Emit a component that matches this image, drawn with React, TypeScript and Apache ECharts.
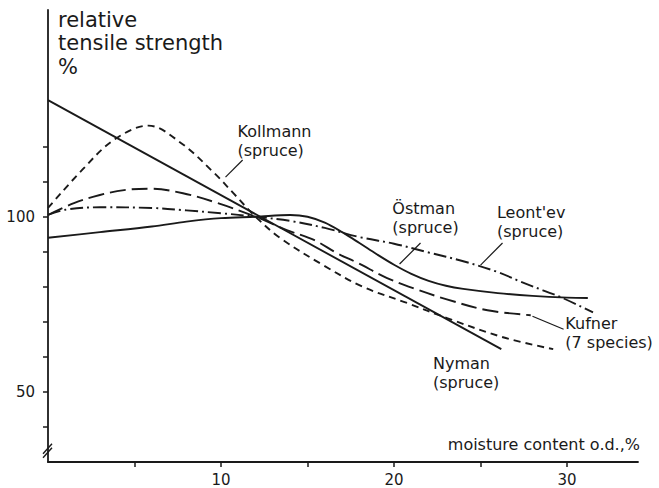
import React, { useEffect, useRef } from 'react';
import * as echarts from 'echarts';

// ---- data ----
const moistureTicks = [5, 10, 15, 20, 25, 30];
const moistureLabels = [10, 20, 30];
const strengthTicks = [40, 50, 60, 70, 80, 90, 100, 110, 120];
const strengthLabels = [50, 100];

const nyman = [[0, 133.3], [26.2, 62.2]];
const kollmann = [
  [0, 102.5], [2, 113.5], [3.8, 121.9], [5.8, 126], [7.7, 121], [9.6, 112.5],
  [10.7, 106.8], [12, 100], [13.4, 94], [15.9, 86.2], [18.2, 80], [20.8, 75.3],
  [23.1, 71], [26.3, 65.6], [29.2, 62.2],
];
const kufner = [
  [0, 100.5], [1.5, 103.9], [3, 106.2], [4.4, 107.6], [5.9, 108], [7.8, 106.7],
  [9.8, 103.9], [12, 100], [13.8, 96.2], [15.4, 93.3], [16.7, 89.6], [17.9, 86.8],
  [19.6, 82.5], [21.1, 79.6], [23, 76.5], [25.4, 73.3], [27.9, 71.9],
];
const ostman = [
  [0, 94], [3, 95.6], [6, 97.2], [8, 98.6], [10, 99.6], [12, 100], [14, 100.5],
  [15, 100], [16, 98.3], [17, 95.6], [18, 92.5], [19, 89.3], [20, 86.3], [21, 83.7],
  [22, 81.7], [23, 80.3], [24, 79.4], [26, 78.2], [28, 77.4], [30, 76.9], [31.2, 76.8],
];
const leontev = [
  [0, 100.5], [1, 102], [3, 102.7], [6, 102.5], [8, 101.8], [10, 101], [12, 100],
  [14, 98.8], [16, 96.8], [18, 94.2], [20, 92.3], [22, 89.8], [24, 87.3], [26, 84.2],
  [27.3, 81.5], [28.6, 79], [29.7, 76.9], [31.5, 72.7],
];

// annotation texts (top-left anchor in data units) and leader lines (data units)
const annotations = [
  { lines: ['Kollmann', '(spruce)'], at: [10.95, 127.1] },
  { lines: ['Östman', '(spruce)'], at: [19.9, 105.1] },
  { lines: ["Leont'ev", '(spruce)'], at: [25.95, 103.8] },
  { lines: ['Kufner', '(7 species)'], at: [29.9, 72.2] },
  { lines: ['Nyman', '(spruce)'], at: [22.25, 60.9] },
];
const leaders = [
  [[11.25, 116.2], [10.26, 111.3]],
  [[21.53, 92.5], [20.32, 86.5]],
  [[26.27, 92.5], [25.0, 86.2]],
  [[28.0, 71.6], [29.8, 67.9]],
];

const INK = '#1a1a1a';
const FONT = 'DejaVu Sans';

export default function App() {
  const ref = useRef<HTMLDivElement>(null);
  useEffect(() => {
    if (!ref.current) return;
    const chart = echarts.init(ref.current, undefined, { renderer: 'svg' });
    const mkLine = (name: string, data: number[][], type: any, smooth: any) => ({
      name,
      type: 'line',
      data,
      showSymbol: false,
      symbol: 'none',
      smooth,
      silent: true,
      lineStyle: { color: INK, width: 1.9, type },
    });
    chart.setOption({
      animation: false,
      backgroundColor: '#ffffff',
      grid: { left: 48, right: 21, top: 10, bottom: 26, containLabel: false },
      xAxis: {
        type: 'value',
        min: 0,
        max: 34.1,
        interval: 5,
        splitLine: { show: false },
        axisLine: { lineStyle: { color: INK, width: 1.8 } },
        axisTick: { show: true, length: 5, customValues: moistureTicks, lineStyle: { color: INK, width: 1.5 } },
        axisLabel: {
          customValues: moistureLabels,
          color: INK,
          fontFamily: FONT,
          fontSize: 15,
          margin: 10,
        },
      },
      yAxis: {
        type: 'value',
        min: 30,
        max: 159,
        interval: 10,
        splitLine: { show: false },
        axisLine: { show: true, lineStyle: { color: INK, width: 1.8 } },
        axisTick: { show: true, length: 5, customValues: strengthTicks, lineStyle: { color: INK, width: 1.5 } },
        axisLabel: {
          customValues: strengthLabels,
          color: INK,
          fontFamily: FONT,
          fontSize: 15,
          margin: 13,
        },
      },
      series: [
        mkLine('Nyman (spruce)', nyman, 'solid', false),
        mkLine('Kollmann (spruce)', kollmann, [7, 5], 0.35),
        mkLine('Kufner (7 species)', kufner, [16, 6], 0.35),
        mkLine('Östman (spruce)', ostman, 'solid', 0.35),
        mkLine("Leont'ev (spruce)", leontev, [13, 4, 2, 4], 0.35),
      ],
    });

    const px = (p: number[]) => chart.convertToPixel({ gridIndex: 0 }, p) as number[];
    const graphics: any[] = [];
    graphics.push({
      type: 'text',
      left: 58,
      top: 8,
      style: {
        text: 'relative\ntensile strength\n%',
        font: `21px ${FONT}`,
        lineHeight: 23.5,
        fill: INK,
      },
    });
    graphics.push({
      type: 'text',
      x: 640,
      y: 444,
      style: {
        text: 'moisture content o.d.,%',
        font: `16px ${FONT}`,
        fill: INK,
        align: 'right',
        verticalAlign: 'middle',
      },
    });
    annotations.forEach((a) => {
      const [x, y] = px(a.at);
      graphics.push({
        type: 'text',
        x,
        y,
        style: {
          text: a.lines.join('\n'),
          font: `16px ${FONT}`,
          lineHeight: 19,
          fill: INK,
          align: 'left',
          verticalAlign: 'top',
        },
      });
    });
    leaders.forEach((l) => {
      const [x1, y1] = px(l[0]);
      const [x2, y2] = px(l[1]);
      graphics.push({
        type: 'line',
        shape: { x1, y1, x2, y2 },
        style: { stroke: INK, lineWidth: 1.2 },
      });
    });
    // axis break marks
    const [ax, ay] = px([0, 33.5]);
    graphics.push({ type: 'line', shape: { x1: ax - 5, y1: ay + 4, x2: ax + 4, y2: ay - 6 }, style: { stroke: INK, lineWidth: 1.4 } });
    graphics.push({ type: 'line', shape: { x1: ax - 5, y1: ay + 8, x2: ax + 4, y2: ay - 2 }, style: { stroke: INK, lineWidth: 1.4 } });
    chart.setOption({ graphic: graphics });

    return () => chart.dispose();
  }, []);
  return (
    <div
      ref={ref}
      style={{ position: 'fixed', left: 0, top: 0, width: 659, height: 488, background: '#fff' }}
    />
  );
}
